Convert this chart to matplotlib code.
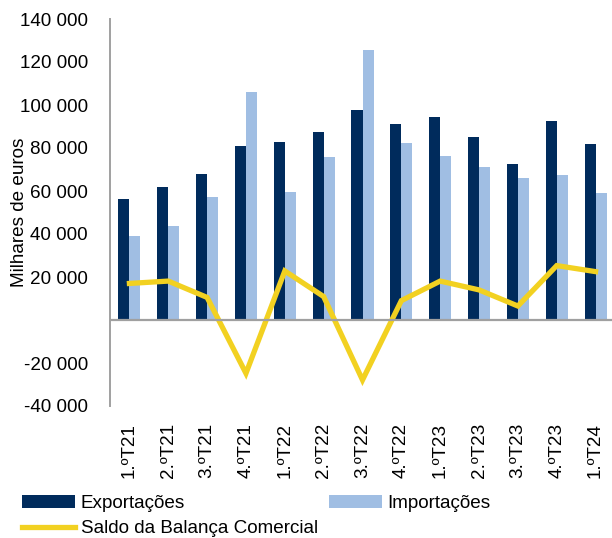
import matplotlib
matplotlib.use("Agg")
import matplotlib.pyplot as plt
import numpy as np
from matplotlib.ticker import FuncFormatter

plt.rcParams['font.family'] = ['Liberation Sans', 'DejaVu Sans']

categories = ["1.ºT21", "2.ºT21", "3.ºT21", "4.ºT21", "1.ºT22", "2.ºT22", "3.ºT22",
              "4.ºT22", "1.ºT23", "2.ºT23", "3.ºT23", "4.ºT23", "1.ºT24"]
exportacoes = [56300, 61900, 67900, 80900, 82800, 87400, 97800, 91000, 94300, 85000, 72600, 92600, 81700]
importacoes = [39200, 43900, 57400, 106000, 59700, 76000, 125600, 82300, 76300, 71200, 65900, 67300, 59200]
saldo = [17000, 18100, 10500, -24800, 22800, 10900, -27900, 9000, 18100, 14000, 6500, 25300, 22500]
yticks = [-40000, -20000, 0, 20000, 40000, 60000, 80000, 100000, 120000, 140000]

c_exp = "#002B5C"
c_imp = "#A0BEE3"
c_sal = "#F2D121"
fs = 13.6

fig = plt.figure(figsize=(6.12, 5.38), dpi=100)
ax = fig.add_axes([110/612, 1-406/538, 505/612, (406-19)/538])

x = np.arange(len(categories))
w = 0.285
b1 = ax.bar(x - w/2, exportacoes, width=w, color=c_exp, label="Exportações", zorder=2)
b2 = ax.bar(x + w/2, importacoes, width=w, color=c_imp, label="Importações", zorder=2)
l1, = ax.plot(x, saldo, color=c_sal, lw=3.8, label="Saldo da Balança Comercial", zorder=3,
              solid_joinstyle='miter')

ax.set_xlim(-0.5, len(categories) - 0.5)
ax.set_ylim(-40000, 140000)
ax.set_yticks(yticks)
ax.yaxis.set_major_formatter(FuncFormatter(lambda v, p: "" if v == 0 else f"{int(v):,}".replace(",", " ")))
ax.set_xticks(x)
ax.set_xticklabels(categories, rotation=90, fontsize=fs)
ax.tick_params(axis='y', length=0, pad=16, labelsize=fs)
ax.tick_params(axis='x', length=0, pad=12)
ax.axhline(0, color="#A0A0A0", lw=1.6, zorder=4)
for s in ["top", "right", "bottom"]:
    ax.spines[s].set_visible(False)
ax.spines["left"].set_color("#A0A0A0")
ax.spines["left"].set_linewidth(1.4)
ax.set_ylabel("Milhares de euros", fontsize=fs)
ax.yaxis.set_label_coords(-0.162, 0.5)

fig.legend(handles=[b1, l1, b2], labels=["Exportações", "Saldo da Balança Comercial", "Importações"],
           ncol=2, loc="upper left", bbox_to_anchor=(22/612, 1-495/538), frameon=False,
           fontsize=fs, handlelength=2.8, handletextpad=0.3, columnspacing=0.6,
           labelspacing=0.42, borderpad=0, borderaxespad=0)

fig.savefig("out.png", dpi=100)
